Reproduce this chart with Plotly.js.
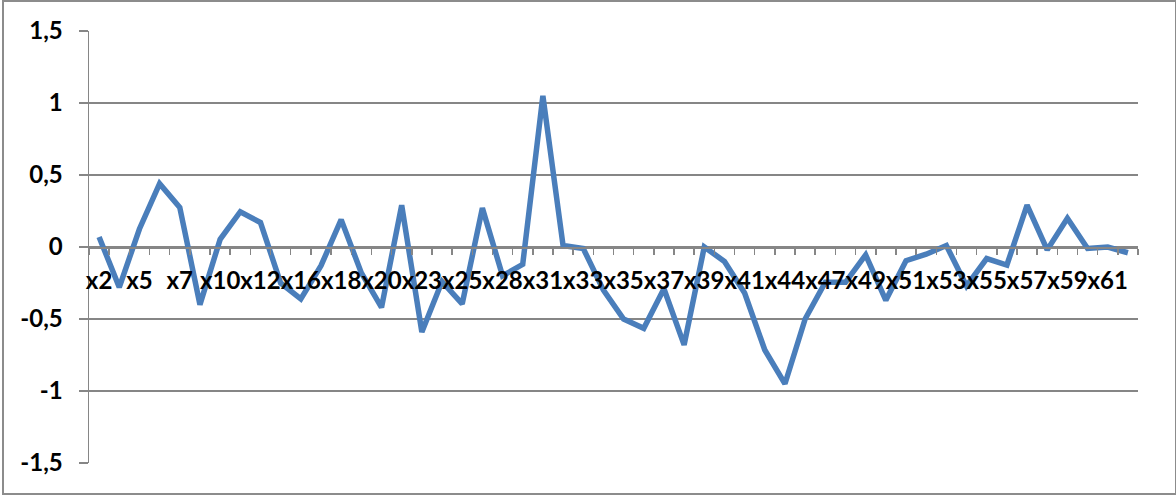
<!DOCTYPE html>
<html><head><meta charset="utf-8">
<script src="https://cdn.plot.ly/plotly-3.0.1.min.js"></script>
<style>
html,body{margin:0;padding:0;background:#fff;}
#wrap{position:relative;width:1176px;height:496px;}
#chart{position:absolute;left:0;top:0;width:1176px;height:496px;}
#frame{position:absolute;left:2px;top:0px;width:1171px;height:491px;border:2px solid #8c8c8c;pointer-events:none;}
</style>
</head><body>
<div id="wrap"><div id="chart"></div><div id="frame"></div></div>
<script>
const categories = ['x2','x4','x5','x6','x7','x9','x10','x11','x12','x14','x16','x17','x18','x19','x20','x22','x23','x24','x25','x27','x28','x30','x31','x32','x33','x34','x35','x36','x37','x38','x39','x40','x41','x43','x44','x46','x47','x48','x49','x50','x51','x52','x53','x54','x55','x56','x57','x58','x59','x60','x61','x62'];
const values = [0.07,-0.28,0.125,0.44,0.275,-0.40,0.053,0.245,0.17,-0.25,-0.36,-0.13,0.19,-0.18,-0.42,0.29,-0.59,-0.24,-0.395,0.27,-0.20,-0.12,1.05,0.01,-0.01,-0.30,-0.50,-0.565,-0.29,-0.68,0.0,-0.10,-0.32,-0.715,-0.95,-0.50,-0.245,-0.245,-0.055,-0.37,-0.095,-0.05,0.01,-0.27,-0.08,-0.125,0.29,-0.02,0.20,-0.01,0.0,-0.04];
const yTickValues = [-1.5,-1,-0.5,0,0.5,1,1.5];
const yTickLabels = ['-1,5','-1','-0,5','0','0,5','1','1,5'];

const grey = '#868686';
const tickFont = {family:'Lato, "Liberation Sans", sans-serif', size:24, color:'#000', weight:'bold'};

const traces = [
  {x:categories, y:values, type:'scatter', mode:'lines',
   line:{color:'#4a7ebb', width:5.5}, hoverinfo:'x+y', showlegend:false}
];

const layout = {
  width:1176, height:496,
  margin:{l:89, r:38, t:31, b:33},
  paper_bgcolor:'#fff', plot_bgcolor:'#fff',
  separators:',.',
  showlegend:false,
  xaxis:{type:'category', range:[-0.5, categories.length-0.5], anchor:'free', position:0.5,
    showline:true, linecolor:grey, linewidth:1.5, showgrid:false, zeroline:false,
    tickmode:'linear', tick0:0, dtick:1, ticklabelstep:2, tickson:'boundaries',
    ticks:'outside', ticklen:6, tickwidth:1.5, tickcolor:grey,
    tickfont:tickFont, tickangle:0, ticklabelstandoff:12, automargin:false},
  yaxis:{range:[-1.5,1.5], tickmode:'array', tickvals:yTickValues, ticktext:yTickLabels,
    showgrid:true, gridcolor:grey, gridwidth:1.5, zeroline:false,
    showline:true, linecolor:grey, linewidth:1.5, ticks:'outside', ticklen:9, tickwidth:1.5, tickcolor:grey,
    tickfont:tickFont, ticklabelstandoff:11, automargin:false}
};

Plotly.newPlot('chart', traces, layout, {displayModeBar:false, staticPlot:true});
</script>
</body></html>
